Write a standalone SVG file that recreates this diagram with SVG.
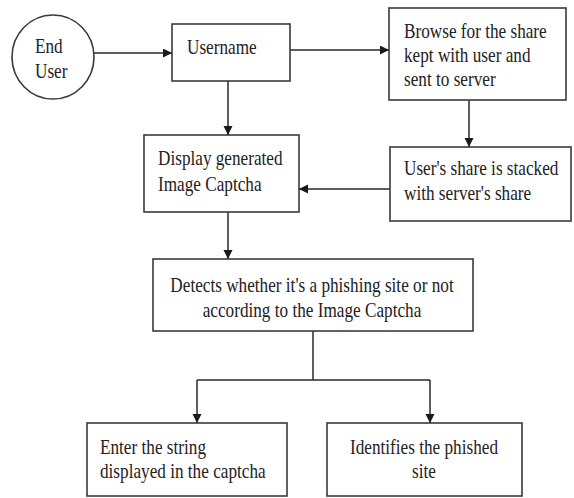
<svg xmlns="http://www.w3.org/2000/svg" width="574" height="498" viewBox="0 0 574 498">
<style>
.box{fill:#fff;stroke:#3a3a3a;stroke-width:1.6}
.t{font-family:"Liberation Serif","Times New Roman",serif;font-size:20px;fill:#222}
.c{text-anchor:middle}
.ln{fill:none;stroke:#2a2a2a;stroke-width:1.5}
</style>
<defs>
<marker id="ah" markerUnits="userSpaceOnUse" markerWidth="10" markerHeight="10" refX="9" refY="4.5" orient="auto">
<path d="M0,0 L9,4.5 L0,9 z" fill="#1a1a1a"/>
</marker>
</defs>
<rect width="574" height="498" fill="#fff"/>
<g id="connectors">
<line class="ln" x1="94" y1="53" x2="172" y2="53" marker-end="url(#ah)"/>
<line class="ln" x1="290" y1="50" x2="389" y2="50" marker-end="url(#ah)"/>
<line class="ln" x1="228" y1="81" x2="228" y2="135" marker-end="url(#ah)"/>
<line class="ln" x1="469" y1="100" x2="469" y2="147" marker-end="url(#ah)"/>
<line class="ln" x1="390" y1="189" x2="299" y2="189" marker-end="url(#ah)"/>
<line class="ln" x1="228" y1="212" x2="228" y2="259" marker-end="url(#ah)"/>
<line class="ln" x1="313" y1="331" x2="313" y2="380"/>
<line class="ln" x1="197" y1="380" x2="430" y2="380"/>
<line class="ln" x1="197" y1="380" x2="197" y2="423" marker-end="url(#ah)"/>
<line class="ln" x1="430" y1="380" x2="430" y2="423" marker-end="url(#ah)"/>
</g>
<g id="end-user">
<ellipse class="box" cx="53" cy="57" rx="41" ry="42"/>
<text class="t" transform="translate(35,53) scale(0.86,1)"><tspan x="0" y="0">End</tspan><tspan x="0" y="25">User</tspan></text>
</g>
<g id="username">
<rect class="box" x="172" y="24" width="118" height="57"/>
<text class="t" transform="translate(187,54) scale(0.86,1)">Username</text>
</g>
<g id="browse">
<rect class="box" x="389" y="8" width="177" height="92"/>
<text class="t" transform="translate(404,38) scale(0.86,1)"><tspan x="0" y="0">Browse for the share</tspan><tspan x="0" y="24">kept with user and</tspan><tspan x="0" y="48">sent to server</tspan></text>
</g>
<g id="display">
<rect class="box" x="144" y="135" width="155" height="77"/>
<text class="t" transform="translate(158,165) scale(0.86,1)"><tspan x="0" y="0">Display generated</tspan><tspan x="0" y="26">Image Captcha</tspan></text>
</g>
<g id="stacked">
<rect class="box" x="390" y="147" width="181" height="74"/>
<text class="t" transform="translate(404,175) scale(0.86,1)"><tspan x="0" y="0">User's share is stacked</tspan><tspan x="0" y="25">with server's share</tspan></text>
</g>
<g id="detects">
<rect class="box" x="153" y="259" width="320" height="72"/>
<text class="t c" transform="translate(312,292) scale(0.86,1)"><tspan x="0" y="0">Detects whether it's a phishing site or not</tspan><tspan x="0" y="25">according to the Image Captcha</tspan></text>
</g>
<g id="enter">
<rect class="box" x="87" y="423" width="200" height="73"/>
<text class="t" transform="translate(100,454) scale(0.86,1)"><tspan x="0" y="0">Enter the string</tspan><tspan x="0" y="24">displayed in the captcha</tspan></text>
</g>
<g id="identifies">
<rect class="box" x="327" y="423" width="195" height="73"/>
<text class="t c" transform="translate(424,454) scale(0.86,1)"><tspan x="0" y="0">Identifies the phished</tspan><tspan x="0" y="24">site</tspan></text>
</g>
</svg>
